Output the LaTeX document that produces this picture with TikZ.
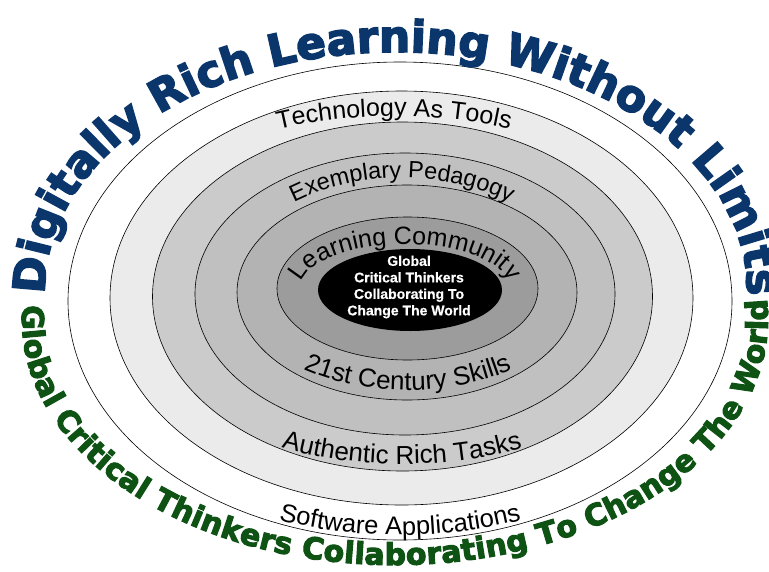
\documentclass[tikz,border=0pt]{standalone}
\usepackage{fontspec}
\setmainfont{Liberation Sans}
\newfontfamily\titlefont{DejaVu Sans}[BoldFeatures={FakeBold=3.5}]
\newfontfamily\corefamily{Liberation Sans}[BoldFeatures={FakeBold=0.6}]
\usetikzlibrary{decorations.text}
\definecolor{titleblue}{RGB}{10,54,108}
\definecolor{titlegreen}{RGB}{14,82,20}
\definecolor{bandA}{HTML}{EBEBEB}
\definecolor{bandB}{HTML}{CBCBCB}
\definecolor{bandC}{HTML}{C0C0C0}
\definecolor{bandD}{HTML}{B3B3B3}
\definecolor{bandE}{HTML}{9C9C9C}
\newcommand\bluestyle{\titlefont\bfseries\fontsize{44}{46}\selectfont}
\newcommand\greenstyle{\titlefont\bfseries\fontsize{30}{32}\selectfont}
\newcommand\lblTech{\fontsize{25}{25}\selectfont}
\newcommand\lblExem{\fontsize{23.5}{24}\selectfont}
\newcommand\lblLearn{\fontsize{25}{25}\selectfont}
\newcommand\lblCent{\fontsize{26}{26}\selectfont}
\newcommand\lblAuth{\fontsize{26}{26}\selectfont}
\newcommand\lblSoft{\fontsize{25.5}{26}\selectfont}
\newcommand\corefont{\corefamily\bfseries\fontsize{14}{16.5}\selectfont}
\tikzset{
  ring/.style={draw=black, line width=0.6pt},
}
\begin{document}
\begin{tikzpicture}[x=1pt,y=-1pt]
\useasboundingbox (0,0) rectangle (769,571);
\fill[white] (0,0) rectangle (769,571);
% rings
\draw[ring, fill=white] (400,301) ellipse [x radius=332, y radius=239];
\draw[ring, fill=bandA] (401.5,298) ellipse [x radius=291.5, y radius=207];
\draw[ring, fill=bandB] (402.5,296.5) ellipse [x radius=250, y radius=174.5];
\draw[ring, fill=bandC] (405,294) ellipse [x radius=210, y radius=141];
\draw[ring, fill=bandD] (407,292.5) ellipse [x radius=170, y radius=107.5];
\draw[ring, fill=bandE] (407.5,288.5) ellipse [x radius=130.5, y radius=71.5];
\fill[black] (410,290) ellipse [x radius=92, y radius=41];
\node[text=white, font=\corefont, align=center, inner sep=0pt] (core) at (409,287)
  {Global\\Critical Thinkers\\Collaborating To\\Change The World};
% ring labels (top)
\path[decorate, decoration={text along path, text={|\lblTech|Technology As Tools}, text align=center}]
  ([shift={(180:290 and 158)}]394,274) arc[start angle=180, end angle=360, x radius=290, y radius=158];
\path[decorate, decoration={text along path, text={|\lblExem|Exemplary Pedagogy}, text align=center}]
  ([shift={(180:180 and 122)}]402,300) arc[start angle=180, end angle=360, x radius=180, y radius=122];
\path[decorate, decoration={text along path, text={|\lblLearn|Learning Community}, text align=center}]
  ([shift={(180:105 and 45)}]405,289) arc[start angle=180, end angle=360, x radius=105, y radius=45];
% ring labels (bottom)
\path[decorate, decoration={text along path, text={|\lblCent|21st Century Skills}, text align=center}]
  ([shift={(180:172 and 100)}]408,290) arc[start angle=180, end angle=0, x radius=172, y radius=100];
\path[decorate, decoration={text along path, text={|\lblAuth|Authentic Rich Tasks}, text align=center}]
  ([shift={(180:290 and 180)}]402,284) arc[start angle=180, end angle=0, x radius=290, y radius=180];
\path[decorate, decoration={text along path, text={|\lblSoft|Software Applications}, text align=center}]
  ([shift={(180:330 and 215)}]400,320) arc[start angle=180, end angle=0, x radius=330, y radius=215];
% outer titles
\path[decorate, decoration={text along path, text color=titleblue, text={|\bluestyle|Digitally Rich Learning Without Limits}, text align=fit to path}]
  ([shift={(179:351 and 238)}]396,290) arc[start angle=179, end angle=359, x radius=351, y radius=238];
\path[decorate, decoration={text along path, text color=titlegreen, text={|\greenstyle|Global Critical Thinkers Collaborating To Change The World}, text align=fit to path}]
  ([shift={(183.5:373 and 245)}]395,320) arc[start angle=183.5, end angle=-5, x radius=373, y radius=245];
\end{tikzpicture}
\end{document}
